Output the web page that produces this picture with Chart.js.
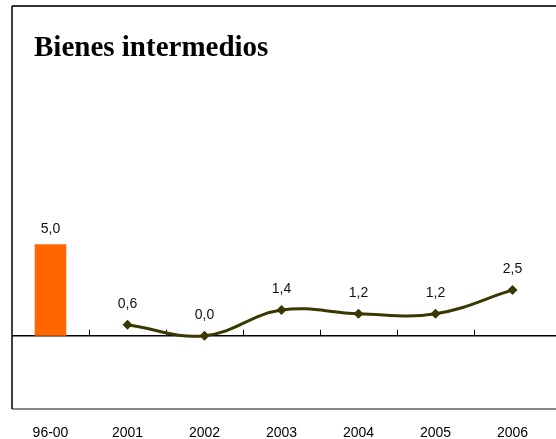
<!DOCTYPE html>
<html>
<head>
<meta charset="utf-8">
<script src="https://cdn.jsdelivr.net/npm/chart.js@4/dist/chart.umd.min.js"></script>
<style>
  body { margin: 0; background: #fff; }
  canvas { display: block; }
</style>
</head>
<body>
<canvas id="intermedios-chart" width="556" height="439"></canvas>
<script>
// values
var categories = ["96-00", "2001", "2002", "2003", "2004", "2005", "2006"];
var averageValues = [5.0, null, null, null, null, null, null];
var yearValues = [null, 0.6, 0.0, 1.4, 1.2, 1.2, 2.5];
var chartTitle = "Bienes intermedios";

function fmt(v) {
  return v.toFixed(1).replace(".", ",");
}

// frame, zero line, tick marks, title and value labels
var decor = {
  id: "decor",
  beforeDatasetsDraw: function(chart) {
    var ctx = chart.ctx;
    var area = chart.chartArea;
    var x = chart.scales.x;
    var y = chart.scales.y;
    var zero = y.getPixelForValue(0);
    ctx.save();
    // frame
    ctx.strokeStyle = "#333";
    ctx.lineWidth = 2;
    ctx.beginPath();
    ctx.moveTo(area.left, area.top);
    ctx.lineTo(chart.width, area.top);
    ctx.stroke();
    ctx.strokeStyle = "#888";
    ctx.beginPath();
    ctx.moveTo(area.left, area.bottom);
    ctx.lineTo(chart.width, area.bottom);
    ctx.stroke();
    ctx.strokeStyle = "#000";
    ctx.lineWidth = 1.5;
    ctx.beginPath();
    ctx.moveTo(area.left, area.top);
    ctx.lineTo(area.left, area.bottom);
    ctx.stroke();
    // zero axis
    ctx.lineWidth = 1.5;
    ctx.beginPath();
    ctx.moveTo(area.left, zero);
    ctx.lineTo(chart.width, zero);
    ctx.stroke();
    ctx.lineWidth = 1;
    for (var i = 0; i < categories.length - 1; i++) {
      var tx = Math.round((x.getPixelForValue(i) + x.getPixelForValue(i + 1)) / 2) + 0.5;
      ctx.beginPath();
      ctx.moveTo(tx, zero);
      ctx.lineTo(tx, zero - 6);
      ctx.stroke();
    }
    // title
    ctx.fillStyle = "#000";
    ctx.font = "bold 29px 'Liberation Serif', serif";
    ctx.textAlign = "left";
    ctx.textBaseline = "alphabetic";
    ctx.fillText(chartTitle, 34, 56);
    ctx.restore();
  },
  afterDatasetsDraw: function(chart) {
    var ctx = chart.ctx;
    ctx.save();
    ctx.fillStyle = "#111";
    ctx.font = "14px 'Liberation Sans', Arial, sans-serif";
    ctx.textAlign = "center";
    ctx.textBaseline = "middle";
    chart.data.datasets.forEach(function(ds, di) {
      var meta = chart.getDatasetMeta(di);
      meta.data.forEach(function(el, i) {
        var v = ds.data[i];
        if (v === null) return;
        var off = ds.type === "bar" ? 15 : 21;
        ctx.fillText(fmt(v), el.x, el.y - off);
      });
    });
    ctx.restore();
  }
};

var ctx = document.getElementById("intermedios-chart").getContext("2d");
var myNewChart = new Chart(ctx, {
  type: "bar",
  data: {
    labels: categories,
    datasets: [
      {
        type: "bar",
        data: averageValues,
        backgroundColor: "#ff6600",
        borderWidth: 0,
        barPercentage: 0.41,
        categoryPercentage: 1
      },
      {
        type: "line",
        data: yearValues,
        borderColor: "#383800",
        backgroundColor: "#383800",
        borderWidth: 3,
        tension: 0.4,
        pointStyle: "rectRot",
        pointRadius: 5,
        pointBorderWidth: 0,
        clip: false
      }
    ]
  },
  options: {
    responsive: false,
    animation: false,
    layout: { padding: { left: 12, top: 6, right: 0, bottom: 0 } },
    plugins: {
      legend: { display: false },
      tooltip: { enabled: false }
    },
    scales: {
      x: {
        grid: { display: false, drawTicks: false },
        border: { display: false },
        afterFit: function(scale) { scale.height = 30; },
        ticks: {
          color: "#000",
          padding: 17,
          font: { family: "'Liberation Sans', Arial, sans-serif", size: 14, lineHeight: 1 }
        }
      },
      y: {
        display: false,
        min: -4,
        max: 18
      }
    }
  },
  plugins: [decor]
});
</script>
</body>
</html>
